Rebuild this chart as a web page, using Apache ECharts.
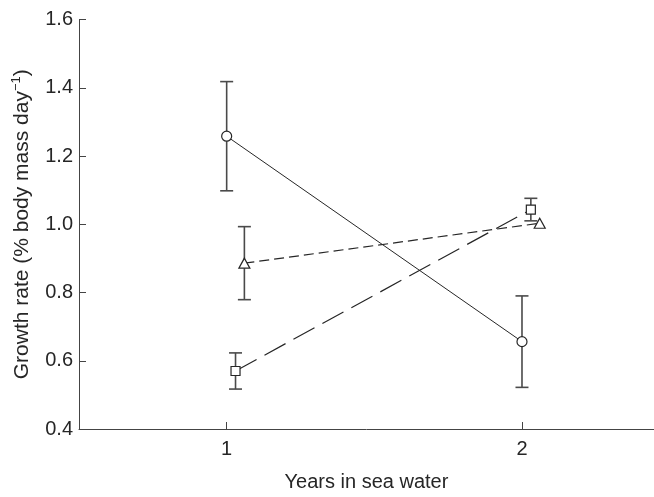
<!DOCTYPE html>
<html>
<head>
<meta charset="utf-8">
<script src="https://cdn.jsdelivr.net/npm/echarts@6/dist/echarts.min.js"></script>
<style>
html,body{margin:0;padding:0;background:#fff;}
#chart{width:654px;height:497px;}
</style>
</head>
<body>
<div id="chart"></div>
<script>
// ---- data ----
const xTicks = [1, 2];
const yTicks = [0.4, 0.6, 0.8, 1.0, 1.2, 1.4, 1.6];

// circles (solid line)
const circleX = [1.0, 2.0];
const circleMean = [1.258, 0.656];
const circleErr = [0.160, 0.134];

// squares (long dashes)
const squareX = [1.03, 2.03];
const squareMean = [0.570, 1.043];
const squareErr = [0.053, 0.033];

// triangles (short dashes)
const triangleX = [1.06, 2.06];
const triangleMean = [0.886, 1.003];
const triangleErr = [0.107, 0];

const xTitle = 'Years in sea water';

const FONT = "'Liberation Sans', Arial, sans-serif";
const INK = '#262626';
const AXIS = '#444';

function pts(xs, ys) { return xs.map((x, i) => [x, ys[i]]); }
function errRows(xs, ys, es) { return xs.map((x, i) => [x, ys[i] - es[i], ys[i] + es[i], es[i]]); }

const errData = []
  .concat(errRows(circleX, circleMean, circleErr))
  .concat(errRows(squareX, squareMean, squareErr))
  .concat(errRows(triangleX, triangleMean, triangleErr));

const chart = echarts.init(document.getElementById('chart'), null, {renderer: 'canvas'});

const option = {
  backgroundColor: '#fff',
  animation: false,
  grid: {left: 79, right: 0, top: 19.5, bottom: 66, containLabel: false},
  xAxis: {
    type: 'value',
    min: 0.5,
    max: 2.447,
    splitLine: {show: false},
    axisLine: {lineStyle: {color: AXIS, width: 1}},
    axisTick: {show: true, inside: true, length: 7, customValues: xTicks, lineStyle: {color: AXIS}},
    axisLabel: {customValues: xTicks, color: INK, fontFamily: FONT, fontSize: 20, margin: 10,
      formatter: v => String(v)},
    name: xTitle,
    nameLocation: 'middle',
    nameGap: 43,
    nameTextStyle: {color: INK, fontFamily: FONT, fontSize: 20}
  },
  yAxis: {
    type: 'value',
    min: 0.4,
    max: 1.6,
    interval: 0.2,
    splitLine: {show: false},
    axisLine: {show: true, lineStyle: {color: AXIS, width: 1}},
    axisTick: {show: true, inside: true, length: 7, lineStyle: {color: AXIS}},
    axisLabel: {color: INK, fontFamily: FONT, fontSize: 20, margin: 6,
      formatter: v => v.toFixed(1)},
    name: '{m|Growth rate (% body mass day}{s|\u22121}{m|)}',
    nameLocation: 'middle',
    nameGap: 45,
    nameRotate: 90,
    nameTextStyle: {
      color: INK, fontFamily: FONT, fontSize: 21,
      rich: {
        m: {color: INK, fontFamily: FONT, fontSize: 21, lineHeight: 24},
        s: {color: INK, fontFamily: FONT, fontSize: 13, verticalAlign: 'top', lineHeight: 24, padding: [0, 0, 10, 0]}
      }
    }
  },
  series: [
    {
      type: 'custom',
      z: 1,
      silent: true,
      data: errData,
      renderItem: function (params, api) {
        const x = api.value(0), lo = api.value(1), hi = api.value(2), e = api.value(3);
        if (!(e > 0)) return null;
        const pLo = api.coord([x, lo]);
        const pHi = api.coord([x, hi]);
        const cw = 6.5;
        const st = {stroke: '#4a4a4a', lineWidth: 1.6};
        return {
          type: 'group',
          children: [
            {type: 'line', shape: {x1: pLo[0], y1: pLo[1], x2: pHi[0], y2: pHi[1]}, style: st},
            {type: 'line', shape: {x1: pLo[0] - cw, y1: pLo[1], x2: pLo[0] + cw, y2: pLo[1]}, style: st},
            {type: 'line', shape: {x1: pHi[0] - cw, y1: pHi[1], x2: pHi[0] + cw, y2: pHi[1]}, style: st}
          ]
        };
      }
    },
    {
      type: 'line', z: 3,
      data: pts(circleX, circleMean),
      symbol: 'circle', symbolSize: 10,
      lineStyle: {color: INK, width: 1, type: 'solid'},
      itemStyle: {color: '#fff', borderColor: INK, borderWidth: 1.2}
    },
    {
      type: 'line', z: 3,
      data: pts(squareX, squareMean),
      symbol: 'rect', symbolSize: 9,
      lineStyle: {color: INK, width: 1.2, type: [24, 9]},
      itemStyle: {color: '#fff', borderColor: INK, borderWidth: 1.2}
    },
    {
      type: 'line', z: 3,
      data: pts(triangleX, triangleMean),
      symbol: 'triangle', symbolSize: [11, 10],
      lineStyle: {color: INK, width: 1.2, type: [10, 5]},
      itemStyle: {color: '#fff', borderColor: INK, borderWidth: 1.2}
    }
  ]
};
chart.setOption(option);
</script>
</body>
</html>
